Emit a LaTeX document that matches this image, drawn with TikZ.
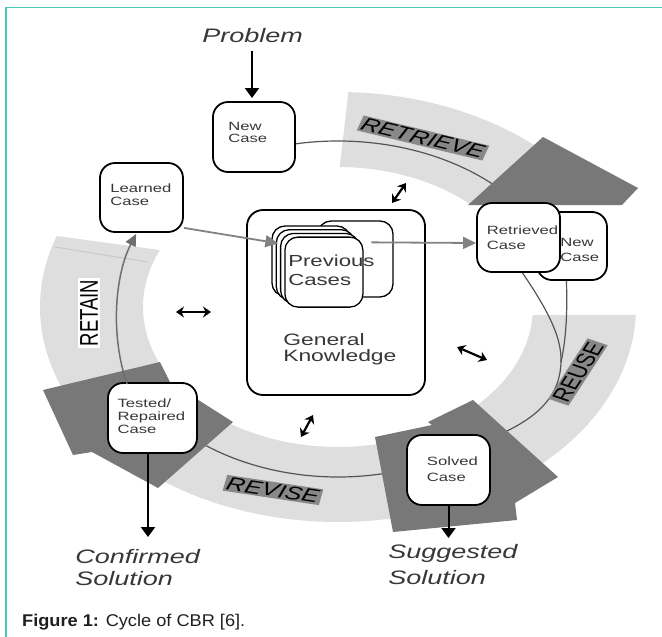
\documentclass[tikz,border=0pt]{standalone}
\usepackage{fontspec}
\setmainfont{Liberation Sans}
\usetikzlibrary{arrows.meta,calc}
\definecolor{frameteal}{RGB}{70,200,182}
\definecolor{bandgray}{RGB}{222,222,222}
\definecolor{bandedge}{RGB}{200,200,200}
\definecolor{headgray}{RGB}{120,120,120}
\definecolor{taggray}{RGB}{136,136,136}
\definecolor{feedgray}{RGB}{130,130,130}
\definecolor{inkgray}{RGB}{55,55,55}
\definecolor{railgray}{RGB}{85,85,85}
\begin{document}
\begin{tikzpicture}[x=1pt,y=-1pt,
  wide/.style={xscale=1.386,transform shape},
  band/.style={fill=bandgray},
  head/.style={fill=headgray},
  rail/.style={draw=railgray,line width=1.2pt},
  casebox/.style={draw=black,line width=1.8pt,fill=white,rounded corners=15pt,inner sep=0pt},
  cardbox/.style={draw=black,line width=1.3pt,fill=white,rounded corners=13pt,inner sep=0pt},
  casetext/.style={inner sep=0pt,anchor=north west,align=left,text=inkgray},
  flowtext/.style={inner sep=0pt,align=left,text=inkgray},
  tag/.style={fill=taggray,inner sep=1.5pt,text=black,font=\fontsize{18.5}{20}\selectfont},
  tagit/.style={tag,font=\fontsize{18.5}{20}\selectfont\itshape},
  down/.style={draw=black,line width=2pt,-{Triangle[length=10pt,width=14pt]}},
  feed/.style={draw=feedgray,line width=1.8pt,-{Triangle[length=13pt,width=12pt]}},
  loopback/.style={draw=feedgray!85!black,line width=1.5pt,-{Triangle[length=12pt,width=11pt]}},
  swap/.style={draw=black,line width=2.2pt,{Stealth[length=8pt,width=11pt]}-{Stealth[length=8pt,width=11pt]}},
]
\useasboundingbox (0,0) rectangle (662,637);
\coordinate (C) at (338,307);

% frame
\draw[frameteal,line width=1.6pt] (6,637) -- (6,7.5) -- (662,7.5);

% the four light process bands
\fill[band] ($(C)+(-88:298 and 215)$) arc[start angle=-88,end angle=-45,x radius=298,y radius=215]
  -- ($(C)+(-47:195 and 140)$) arc[start angle=-47,end angle=-89.5,x radius=195,y radius=140] -- cycle;
\fill[band] ($(C)+(2.1:298 and 215)$) arc[start angle=2.1,end angle=55,x radius=298,y radius=215]
  -- ($(C)+(55:195 and 140)$) arc[start angle=55,end angle=3.3,x radius=195,y radius=140] -- cycle;
\fill[band] ($(C)+(75:298 and 215)$) arc[start angle=75,end angle=128,x radius=298,y radius=215]
  -- ($(C)+(128:195 and 140)$) arc[start angle=128,end angle=75,x radius=195,y radius=140] -- cycle;
\fill[band] ($(C)+(154:298 and 215)$) arc[start angle=154,end angle=199.3,x radius=298,y radius=215]
  -- ($(C)+(204:195 and 140)$) arc[start angle=204,end angle=154,x radius=195,y radius=140] -- cycle;
\draw[bandedge,line width=1pt] (55,247) -- (148,262);

% thin rails running inside the bands
\draw[rail] ($(C)+(-110:230 and 166)$) arc[start angle=-110,end angle=-40,x radius=230,y radius=166];
\draw[rail] ($(C)+(68:228 and 170)$) arc[start angle=68,end angle=132,x radius=228,y radius=170];
\draw[rail] (515,262) .. controls (545,305) and (562,335) .. (561,362)
  .. controls (560,395) and (540,415) .. (505,432);
\draw[rail] (566,272) .. controls (568,310) and (566,340) .. (561,362);

% dark arrow heads of the cycle
\fill[head] (543,137) -- (638,188) -- (622,205) -- (468,205) -- cycle;
\fill[head] (473,400) -- (558,477) -- (515,503) -- (517,520) -- (393,532) -- (375,437) -- (432,425) -- (428,422) -- cycle;
\fill[head] (43,390) -- (160,362) -- (170,382) -- (233,422) -- (158,488) -- (92,452) -- (73,455) -- cycle;

% band labels
\node[tagit,shift={(423,138)},xscale=1.386,rotate=-18.4,transform shape] (tRetrieve) at (0,0) {RETRIEVE};
\node[tag,shift={(578,372)},xscale=1.386,rotate=64.9,transform shape] (tReuse) at (0,0) {REUSE};
\node[tagit,shift={(273,490)},xscale=1.386,rotate=-11.8,transform shape] (tRevise) at (0,0) {REVISE};
\node[tag,fill=white,shift={(89,313)},xscale=1.386,rotate=90,transform shape] (tRetain) at (0,0) {RETAIN};

% general knowledge with the stack of previous cases
\node[casebox,rounded corners=16pt,minimum width=178pt,minimum height=185pt] (gk) at (336,302.5) {};
\node[cardbox,minimum width=75pt,minimum height=76pt] (cardR) at (355.5,259) {};
\node[cardbox,minimum width=78pt,minimum height=70pt] (card0) at (311,261) {};
\node[cardbox,minimum width=78pt,minimum height=70pt] (card1) at (315.3,264.7) {};
\node[cardbox,minimum width=78pt,minimum height=70pt] (card2) at (319.6,268.4) {};
\node[cardbox,minimum width=78pt,minimum height=70pt] (card3) at (323.9,272.1) {};
\node[casetext,font=\fontsize{16}{19}\selectfont,shift={(288,255)},wide] (tPrev) at (0,0) {Previous\\Cases};
\node[casetext,font=\fontsize{16.5}{16.5}\selectfont,shift={(283,333)},wide] (tGen) at (0,0) {General\\Knowledge};

% case boxes
\node[casebox,minimum width=82pt,minimum height=70pt] (newA) at (254,137) {};
\node[casetext,font=\fontsize{12}{12}\selectfont,shift={(228,121.7)},wide] (tNewA) at (0,0) {New\\Case};
\node[casebox,minimum width=83pt,minimum height=69pt] (learned) at (141.5,197.5) {};
\node[casetext,font=\fontsize{12}{12.5}\selectfont,shift={(110,184)},wide] (tLearned) at (0,0) {Learned\\Case};
\node[casebox,minimum width=70pt,minimum height=68pt] (newB) at (572,246) {};
\node[casetext,font=\fontsize{12}{15}\selectfont,shift={(560,238.3)},wide] (tNewB) at (0,0) {New\\Case};
\node[casebox,minimum width=83pt,minimum height=69pt] (retrieved) at (518.5,237.5) {};
\node[casetext,font=\fontsize{12}{15}\selectfont,shift={(486.7,226)},wide] (tRetrieved) at (0,0) {Retrieved\\Case};
\node[casebox,minimum width=89pt,minimum height=70pt] (tested) at (152.5,418) {};
\node[casetext,font=\fontsize{12}{13.3}\selectfont,shift={(117.3,398.3)},wide] (tTested) at (0,0) {Tested/\\Repaired\\Case};
\node[casebox,minimum width=83pt,minimum height=70pt] (solved) at (448.5,470) {};
\node[casetext,font=\fontsize{12}{15.5}\selectfont,shift={(426.7,456.7)},wide] (tSolved) at (0,0) {Solved\\Case};

% inputs and outputs
\node[flowtext,anchor=base west,font=\fontsize{19.5}{22}\selectfont\itshape,shift={(202,42)},wide] (problem) at (0,0) {Problem};
\node[flowtext,anchor=north west,font=\fontsize{19.5}{22}\selectfont\itshape,shift={(75,549)},wide] (confirmed) at (0,0) {Confirmed\\Solution};
\node[flowtext,anchor=north west,font=\fontsize{19.5}{26.5}\selectfont\itshape,shift={(388,544)},wide] (suggested) at (0,0) {Suggested\\Solution};

\coordinate (inTip) at (252,98);
\coordinate (cfTip) at (148,537);
\coordinate (sgTip) at (448.5,538);
\draw[down] (inTip |- 0,51) -- (inTip);
\draw[down] (tested.south -| cfTip) -- (cfTip);
\draw[down] (solved.south) -- (sgTip);

% grey flows between cases
\draw[feed] ($(learned.south east)+(0,-5)$) -- ($(card0.north west)+(7,18)$);
\draw[feed] ($(cardR.north west)+(54,22)$) -- ($(retrieved.west)+(0,5.5)$);
\draw[loopback] ($(tested.north west)+(20,2)$) .. controls (110,335) and (115,275) .. ($(learned.south west)+(37,1)$);

% exchanges with general knowledge
\coordinate (sa1) at (392,203); \coordinate (sa2) at (406,183);
\coordinate (sb1) at (176,312); \coordinate (sb2) at (211,312);
\coordinate (sc1) at (457,347); \coordinate (sc2) at (487,360);
\coordinate (sd1) at (301,437); \coordinate (sd2) at (313,415);
\draw[swap] (sa1) -- (sa2);
\draw[swap] (sb1) -- (sb2);
\draw[swap] (sc1) -- (sc2);
\draw[swap] (sd1) -- (sd2);

% caption
\node[anchor=base west,inner sep=0pt,text=black!88,font=\fontsize{17}{20}\selectfont,shift={(22,626)},xscale=1.07,transform shape] (caption) at (0,0) {\textbf{Figure 1:} Cycle of CBR [6].};
\end{tikzpicture}
\end{document}
